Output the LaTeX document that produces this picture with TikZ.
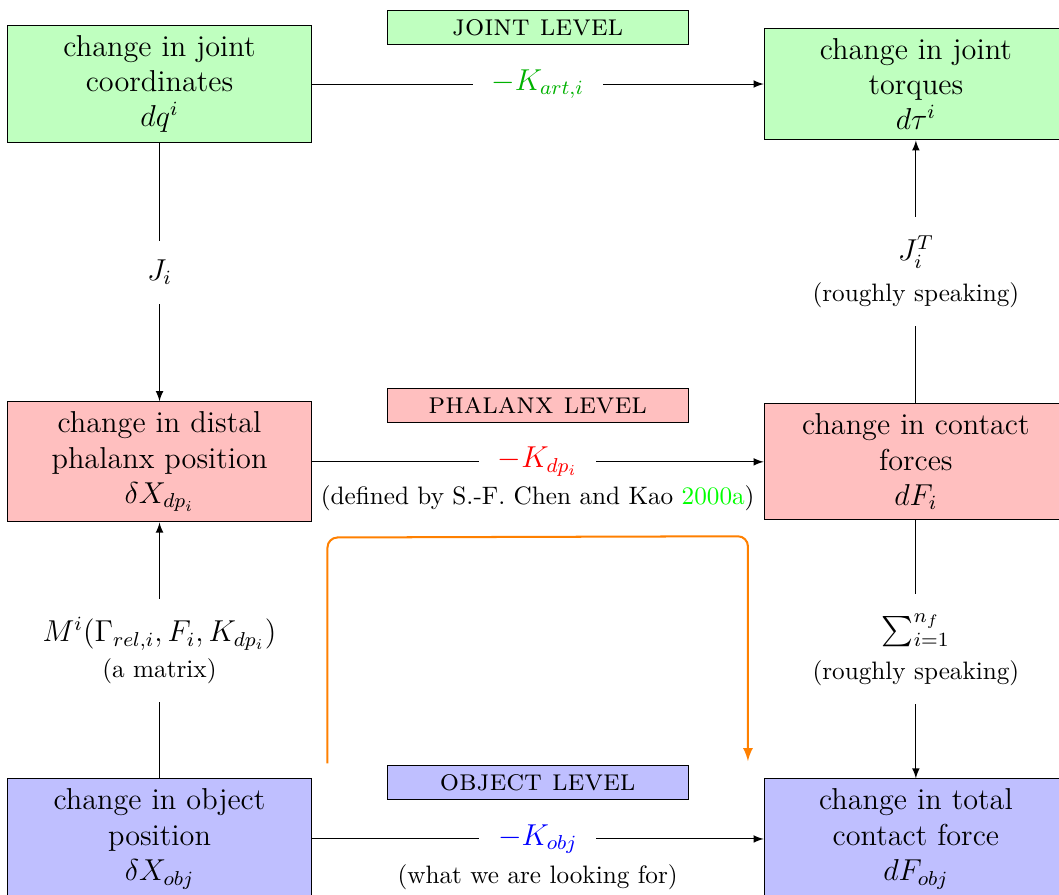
\documentclass[tikz,border=0pt]{standalone}
\usepackage{amsmath}
\usetikzlibrary{calc}

\begin{document}
\begin{tikzpicture}[>=latex,
        box/.style={draw, text width=3.95cm, align=center, font=\large, inner sep=4pt},
        lvl/.style={draw, text width=3.95cm, align=center, inner sep=3.5pt, font=\large\scshape},
        lbl/.style={fill=white, align=center, font=\large, inner sep=7.5pt},
        note/.style={align=center}]
        \useasboundingbox (-2.225,1.172) rectangle (12.546,-11.31);

        % the six quantities, one row per level
        \node[box, fill=green!25] (dq) at (0,0) {change in joint\\ coordinates\\ $dq^i$};
        \node[box, fill=green!25] (dtau) at (10.55,0) {change in joint\\ torques\\ $d\tau^i$};
        \node[box, fill=red!25] (dxdp) at (0,-5.27) {change in distal\\ phalanx position\\ $\delta X_{dp_i}$};
        \node[box, fill=red!25] (dfi) at (10.55,-5.27) {change in contact\\ forces\\ $dF_i$};
        \node[box, fill=blue!25] (dxobj) at (0,-10.53) {change in object\\ position\\ $\delta X_{obj}$};
        \node[box, fill=blue!25] (dfobj) at (10.55,-10.53) {change in total\\ contact force\\ $dF_{obj}$};

        % name of each level above its row
        \foreach \y/\col/\lvlname/\lvltext in {
            0/green/joint/joint level,
            -5.27/red/phalanx/phalanx level,
            -10.53/blue/object/object level}
                \node[lvl, fill=\col!25] (\lvlname) at (5.275,\y+0.788) {\lvltext};

        % stiffness at each level
        \draw[->] (dq) -- node[lbl, text=green!70!black] (kart) {$-K_{art,i}$} (dtau);
        \draw[->] (dxdp) -- node[lbl, text=red] (kdp) {$-K_{dp_i}$} (dfi);
        \draw[->] (dxobj) -- node[lbl, text=blue] (kobj) {$-K_{obj}$} (dfobj);
        \node[note] (kdpnote) at ($(kdp)+(0,-0.5)$) {(defined by S.-F. Chen and Kao \textcolor{green}{2000a})};
        \node[note] (kobjnote) at ($(kobj)+(0,-0.53)$) {(what we are looking for)};

        % maps between the levels
        \draw[->] (dq) -- node[lbl] (jac) {$J_i$} (dxdp);
        \draw[->] (dxobj) -- node[lbl] (mmat) {$M^i(\Gamma_{rel,i},F_i,K_{dp_i})$\\ \normalsize (a matrix)} (dxdp);
        \draw[->] (dfi) -- node[lbl] (jact) {$J_i^T$\\[2pt] \normalsize (roughly speaking)} (dtau);
        \draw[->] (dfi) -- node[lbl] (sumf) {$\sum_{i=1}^{n_f}$\\[2pt] \normalsize (roughly speaking)} (dfobj);

        % going round through the phalanx level
        \draw[->, orange, thick, rounded corners]
            ($(dxobj.north east)+(0.22,0.21)$) -- ($(dxdp.south east)+(0.22,-0.21)$)
            -- ($(dfi.south west)+(-0.22,-0.22)$) -- ($(dfobj.north west)+(-0.22,0.24)$);
\end{tikzpicture}
\end{document}
